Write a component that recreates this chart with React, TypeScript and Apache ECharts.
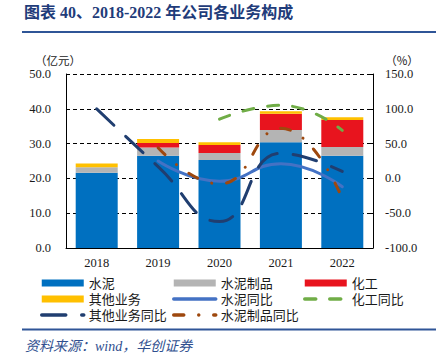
import React, { useEffect, useRef } from "react";
import * as echarts from "echarts";

const categories = ["2018", "2019", "2020", "2021", "2022"];
const cement = [21.6, 26.5, 25.3, 30.4, 26.5];
const cementProducts = [1.6, 2.4, 2.0, 3.5, 2.5];
const chemical = [0, 1.3, 2.3, 4.7, 7.8];
const otherBiz = [1.1, 1.1, 0.8, 0.7, 0.8];
const cementYoY = [null, 25, -4, 21, -12];
const chemicalYoY = [null, null, 85, 105, 69];
const otherYoY = [100, 17, -62, 36, 10];
const productsYoY = [null, 44, -8, 72, -29];

const SERIF = "'Liberation Serif', 'Times New Roman', 'Noto Sans CJK SC', serif";
const TXT = "#1a1a1a";

export default function App() {
  const ref = useRef<HTMLDivElement>(null);
  useEffect(() => {
    if (!ref.current) return;
    const chart = echarts.init(ref.current, null, { renderer: "svg" });
    const barItem = (name: string) => ({ name, icon: "rect" });
    const lineItem = (name: string) => ({ name, itemStyle: { opacity: 0 }, lineStyle: { width: 3.5 } });
    const legendBase = {
      orient: "vertical",
      itemGap: 0,
      itemWidth: 42,
      itemHeight: 7,
      selectedMode: false,
      lineStyle: { width: 3.5 },
      textStyle: { fontSize: 13, color: TXT, fontFamily: SERIF, lineHeight: 16 },
    };
    const lineSeries = (name: string, data: any[], color: string, type: any) => ({
      name,
      type: "line",
      yAxisIndex: 1,
      data,
      smooth: 0.5,
      symbol: "none",
      connectNulls: false,
      z: 5,
      lineStyle: { color, width: 3, type, cap: "round" },
      itemStyle: { color },
    });
    chart.setOption({
      animation: false,
      grid: { left: 66, right: 69, top: 74, bottom: 112 },
      graphic: [
        {
          type: "text",
          x: 24,
          y: 12,
          style: {
            text: "图表 40、2018-2022 年公司各业务构成",
            fontSize: 16,
            fontWeight: "bold",
            fontFamily: SERIF,
            fill: "#1F3C7A",
            verticalAlign: "middle",
          },
        },
        { type: "line", shape: { x1: 22, y1: 32, x2: 436, y2: 32 }, style: { stroke: "#2F5597", lineWidth: 2 } },
        { type: "line", shape: { x1: 22, y1: 329.5, x2: 436, y2: 329.5 }, style: { stroke: "#2F5597", lineWidth: 2 } },
        {
          type: "text",
          x: 25,
          y: 346,
          style: {
            text: "资料来源：wind，华创证券",
            fontSize: 14,
            fontStyle: "italic",
            fontFamily: SERIF,
            fill: "#2F4F8F",
            verticalAlign: "middle",
          },
        },
        {
          type: "text",
          x: 58,
          y: 59.5,
          style: { text: "（亿元）", fontSize: 11.5, fontFamily: "'Noto Sans CJK SC', sans-serif", fill: TXT, align: "center", verticalAlign: "middle" },
        },
        {
          type: "text",
          x: 402,
          y: 59.5,
          style: { text: "（%）", fontSize: 11.5, fontFamily: "'Noto Sans CJK SC', sans-serif", fill: TXT, align: "center", verticalAlign: "middle" },
        },
      ],
      legend: [
        { ...legendBase, left: 35, top: 270, data: [barItem("水泥"), barItem("其他业务"), lineItem("其他业务同比")] },
        { ...legendBase, left: 167, top: 270, data: [barItem("水泥制品"), lineItem("水泥同比"), lineItem("水泥制品同比")] },
        { ...legendBase, left: 298, top: 270, data: [barItem("化工"), lineItem("化工同比")] },
      ],
      xAxis: {
        type: "category",
        data: categories,
        boundaryGap: true,
        axisLine: { lineStyle: { color: "#000", width: 1 } },
        axisTick: { inside: true, length: 5, lineStyle: { color: "#000" } },
        axisLabel: { color: TXT, fontSize: 12.5, fontFamily: SERIF, margin: 9 },
      },
      yAxis: [
        {
          type: "value",
          min: 0,
          max: 50,
          interval: 10,
          axisLine: { show: true, lineStyle: { color: "#000", width: 1 } },
          axisTick: { show: true, inside: true, length: 4, lineStyle: { color: "#000" } },
          axisLabel: { color: TXT, fontSize: 12.5, fontFamily: SERIF, margin: 15, formatter: (v: number) => v.toFixed(1) },
          splitLine: { show: true, lineStyle: { color: "#000", width: 1, type: [4, 3] } },
        },
        {
          type: "value",
          min: -100,
          max: 150,
          interval: 50,
          position: "right",
          axisLine: { show: true, lineStyle: { color: "#000", width: 1 } },
          axisTick: { show: true, inside: true, length: 4, lineStyle: { color: "#000" } },
          axisLabel: { color: TXT, fontSize: 12.5, fontFamily: SERIF, margin: 12, formatter: (v: number) => v.toFixed(1) },
          splitLine: { show: false },
        },
      ],
      series: [
        { name: "水泥", type: "bar", stack: "rev", data: cement, barWidth: 42, itemStyle: { color: "#0070C0" } },
        { name: "水泥制品", type: "bar", stack: "rev", data: cementProducts, barWidth: 42, itemStyle: { color: "#B4B4B4" } },
        { name: "化工", type: "bar", stack: "rev", data: chemical, barWidth: 42, itemStyle: { color: "#E8141E" } },
        { name: "其他业务", type: "bar", stack: "rev", data: otherBiz, barWidth: 42, itemStyle: { color: "#FFC000" } },
        lineSeries("水泥同比", cementYoY, "#4472C4", "solid"),
        lineSeries("化工同比", chemicalYoY, "#70AD47", [11, 14]),
        lineSeries("其他业务同比", otherYoY, "#203E70", [24, 16]),
        lineSeries("水泥制品同比", productsYoY, "#9E480E", [10, 15, 0.01, 15]),
      ],
    });
    return () => chart.dispose();
  }, []);
  return <div ref={ref} style={{ width: 442, height: 360, position: "absolute", left: 0, top: 0 }} />;
}
